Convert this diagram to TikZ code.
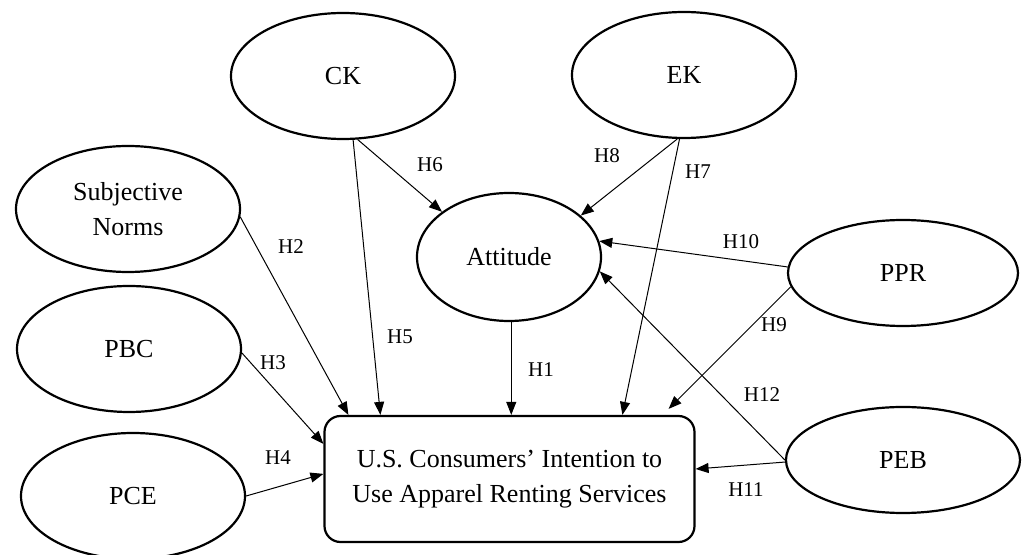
\documentclass[tikz,border=0pt]{standalone}
\usepackage{fontspec}
\setmainfont{Liberation Serif}
\usepackage{tikz}
\usetikzlibrary{shapes.geometric,arrows.meta,positioning,calc}

\begin{document}
\begin{tikzpicture}[
  x=0.5pt, y=-0.5pt,
  every node/.style={font=\fontsize{13}{17.5}\selectfont},
  construct/.style={ellipse, draw=black, line width=1.1pt, minimum width=112pt,
                    minimum height=63pt, inner sep=0pt, align=center},
  outcome/.style={rectangle, draw=black, line width=1.1pt, rounded corners=8pt,
                  minimum width=185pt, minimum height=63pt, align=center},
  arrow/.style={-{Triangle[length=6.5pt,width=5pt]}, line width=0.5pt},
  hyp/.style={font=\fontsize{10.5}{12}\selectfont, inner sep=1pt}
]
  \useasboundingbox (0,0) rectangle (1025,555);

  \node[construct]                                      (ck)  at (343,76)  {CK};
  \node[construct]                                      (ek)  at (684,75)  {EK};
  \node[construct]                                      (sn)  at (128,209) {Subjective\\Norms};
  \node[construct, minimum width=92pt, minimum height=64pt]  (att) at (509,257) {Attitude};
  \node[construct, minimum width=115pt, minimum height=53pt] (ppr) at (903,273) {PPR};
  \node[construct, minimum width=117pt, minimum height=53pt] (peb) at (903,460) {PEB};
  \node[construct]                                      (pbc) at (129,349) {PBC};
  \node[construct]                                      (pce) at (133,496) {PCE};
  \node[outcome] (int) at (509.5,479) {U.S. Consumers' Intention to\\Use Apparel Renting Services};

  % paths into the intention box
  \draw[arrow] (att.-88)   -- (att.-88 |- int.north);
  \draw[arrow] (sn.-4)     -- ($(int.north west)+(25,0)$);
  \draw[arrow] (pbc.-2)    -- ($(int.north west)+(0,29)$);
  \draw[arrow] (pce.east)  -- ($(int.north west)+(0,59)$);
  \draw[arrow] (ck.-81)    -- ($(int.north west)+(57,0)$);
  \draw[arrow] (ek.-94)    -- ($(int.north west)+(299,0)$);
  \draw[arrow] (ppr.187)   -- ($(int.north east)+(-27,-6)$);
  \draw[arrow] (peb.181)   -- ($(int.east)+(0,-10)$);

  % paths into attitude
  \draw[arrow] (ck.-77)    -- (att.146);
  \draw[arrow] (ek.-96)    -- (att.30);
  \draw[arrow] (ppr.177)   -- (att.10);
  \draw[arrow] (peb.west)  -- (att.-9);

  \node[hyp] (h1)  at (541,370) {H1};
  \node[hyp] (h2)  at (291,247) {H2};
  \node[hyp] (h3)  at (273,363) {H3};
  \node[hyp] (h4)  at (278,458) {H4};
  \node[hyp] (h5)  at (400,337) {H5};
  \node[hyp] (h6)  at (430,165) {H6};
  \node[hyp] (h7)  at (698,172) {H7};
  \node[hyp] (h8)  at (607,156) {H8};
  \node[hyp] (h9)  at (774,325) {H9};
  \node[hyp] (h10) at (741,242) {H10};
  \node[hyp] (h11) at (746,490) {H11};
  \node[hyp] (h12) at (762,395) {H12};
\end{tikzpicture}
\end{document}
